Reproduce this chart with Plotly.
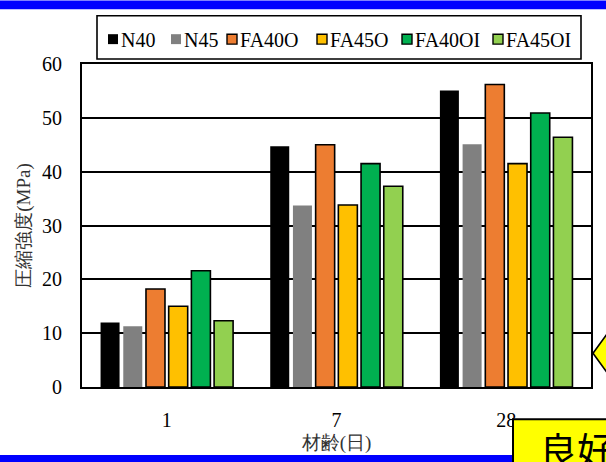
import plotly.graph_objects as go

# Compressive strength by age for each mix
ages = ["1", "7", "28"]
series_names = ["N40", "N45", "FA40O", "FA45O", "FA40OI", "FA45OI"]
n40 = [12.0, 44.7, 55.1]
n45 = [11.3, 33.7, 45.1]
fa40o = [18.2, 45.0, 56.2]
fa45o = [15.0, 33.8, 41.5]
fa40oi = [21.6, 41.5, 50.9]
fa45oi = [12.3, 37.3, 46.4]
series_values = [n40, n45, fa40o, fa45o, fa40oi, fa45oi]
y_ticks = [0, 10, 20, 30, 40, 50, 60]

colors = ["#000000", "#808080", "#ED7D31", "#FFC000", "#00B050", "#92D050"]
outlined = [False, False, True, True, True, True]

W, H = 606, 462
L, R, T, B = 82, 591, 64, 389  # plot area in pixels


def px(x):
    return (x - L) / (R - L)


def py(y):
    return (B - y) / (B - T)


SERIF = "Liberation Serif"

fig = go.Figure()
for name, vals, col, ol in zip(series_names, series_values, colors, outlined):
    fig.add_trace(go.Bar(
        name=name, x=ages, y=vals,
        marker=dict(color=col,
                    line=dict(color="#000000" if ol else col, width=1.6 if ol else 0)),
        showlegend=False,
    ))

shapes = []
annotations = []

# Legend box with square swatches
shapes.append(dict(type="rect", xref="paper", yref="paper",
                   x0=px(97), x1=px(581), y0=py(15.5), y1=py(59),
                   line=dict(color="#000000", width=1.6), fillcolor="rgba(0,0,0,0)"))
swatch_left = [108, 171, 227, 317, 402, 493]
for xl, name, col, ol in zip(swatch_left, series_names, colors, outlined):
    shapes.append(dict(type="rect", xref="paper", yref="paper",
                       x0=px(xl), x1=px(xl + 10), y0=py(34), y1=py(44),
                       fillcolor=col,
                       line=dict(color="#000000" if ol else col, width=1.4 if ol else 0)))
    annotations.append(dict(xref="paper", yref="paper", x=px(xl + 10.5), y=py(39.5),
                            xanchor="left", yanchor="middle", showarrow=False,
                            text=name, font=dict(family=SERIF, size=20, color="#000000")))

# Blue bands at the top and bottom
shapes.append(dict(type="rect", xref="paper", yref="paper",
                   x0=px(0), x1=px(W), y0=py(0), y1=py(9),
                   fillcolor="#0000FF", line=dict(width=0)))
shapes.append(dict(type="rect", xref="paper", yref="paper",
                   x0=px(0), x1=px(514), y0=py(457.5), y1=py(470),
                   fillcolor="#0000FF", line=dict(width=0)))

# Yellow callout box and pointer
shapes.append(dict(type="rect", xref="paper", yref="paper",
                   x0=px(513), x1=px(640), y0=py(421.5), y1=py(500),
                   fillcolor="#FFFF00", line=dict(color="#000000", width=2)))
path = "M {:.5f} {:.5f} L {:.5f} {:.5f} L {:.5f} {:.5f} L {:.5f} {:.5f} Z".format(
    px(593), py(355), px(606), py(337), px(619), py(355), px(606), py(373))
shapes.append(dict(type="path", xref="paper", yref="paper", path=path,
                   fillcolor="#FFFF00", line=dict(color="#000000", width=1.6)))
annotations.append(dict(xref="paper", yref="paper", x=px(537), y=py(421),
                        xanchor="left", yanchor="top", showarrow=False,
                        text="良好", font=dict(family="Noto Sans CJK JP", size=38,
                                              color="#000000")))

fig.update_layout(
    width=W, height=H,
    margin=dict(l=L, r=W - R, t=T, b=H - B, pad=0),
    paper_bgcolor="#FFFFFF", plot_bgcolor="#FFFFFF",
    barmode="group", bargap=0.197, bargroupgap=0.163,
    shapes=shapes, annotations=annotations,
    xaxis=dict(
        type="category", showline=True, linecolor="#000000", linewidth=2, mirror=True,
        showgrid=False, ticks="outside", ticklen=14, tickcolor="rgba(0,0,0,0)",
        tickfont=dict(family=SERIF, size=20, color="#000000"),
        title=dict(text="材齢(日)", standoff=6,
                   font=dict(family=SERIF, size=19, color="#333333")),
    ),
    yaxis=dict(
        range=[0, 60], tickvals=y_ticks, showline=True, linecolor="#000000",
        linewidth=2, mirror=True, showgrid=True, gridcolor="#000000", gridwidth=1.6,
        zeroline=False, ticks="outside", ticklen=14, tickcolor="rgba(0,0,0,0)",
        tickfont=dict(family=SERIF, size=20, color="#000000"),
        title=dict(text="圧縮強度(MPa)", standoff=6,
                   font=dict(family=SERIF, size=19, color="#333333")),
    ),
)

fig.write_html("out.html")
